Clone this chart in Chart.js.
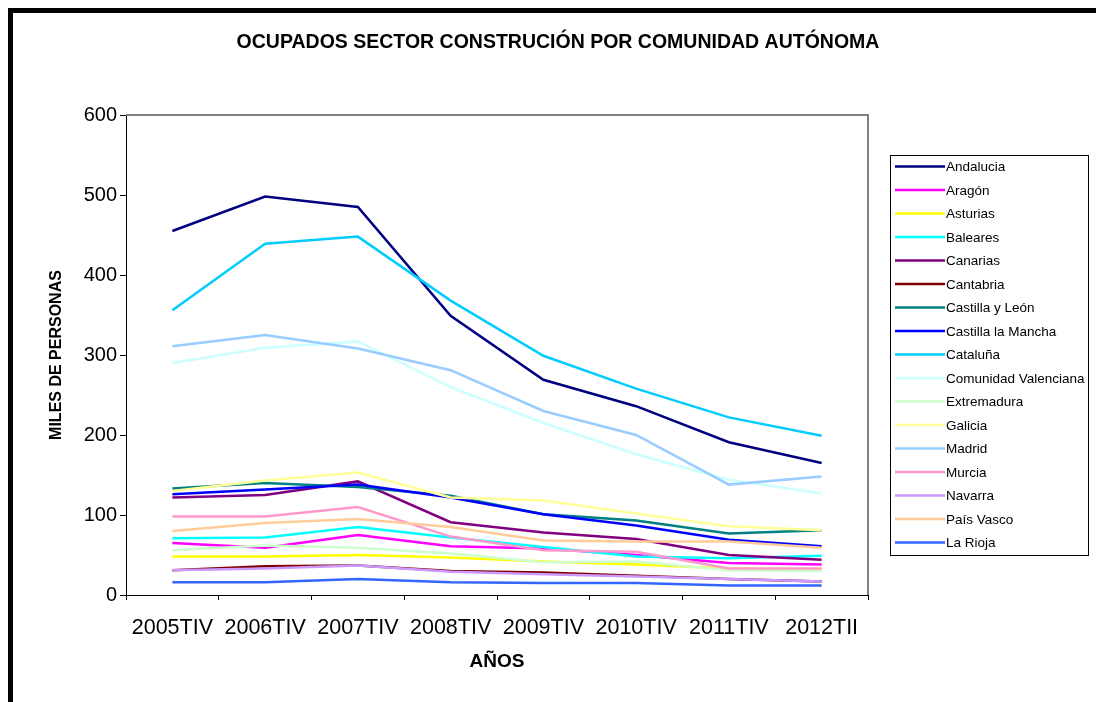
<!DOCTYPE html>
<html>
<head>
<meta charset="utf-8">
<script src="https://cdn.jsdelivr.net/npm/chart.js@4/dist/chart.umd.min.js"></script>
<style>
	html, body { margin: 0; padding: 0; background: #fff; overflow: hidden; }
	#frame { position: absolute; left: 8px; top: 8px; width: 2000px; height: 2000px; border-left: 5px solid #000; border-top: 5px solid #000; }
	#chart { position: absolute; left: 0; top: 0; }
</style>
</head>
<body>
<div id="frame"></div>
<canvas id="chart" width="1096" height="702"></canvas>
<script>
const FONT = "'Liberation Sans', Arial, sans-serif";

const categories = ['2005TIV', '2006TIV', '2007TIV', '2008TIV', '2009TIV', '2010TIV', '2011TIV', '2012TII'];
const yTicks = [0, 100, 200, 300, 400, 500, 600];

const andalucia = [455, 498, 485, 349, 269, 236, 191, 165];
const aragon = [65, 59, 75, 61, 58, 50, 40, 38];
const asturias = [48, 48, 50, 47, 42, 38, 33, 32];
const baleares = [71, 72, 85, 72, 60, 48, 46, 49];
const canarias = [122, 125, 142, 91, 78, 70, 50, 44];
const cantabria = [31, 36, 37, 30, 28, 24, 20, 17];
const castillaLeon = [133, 140, 135, 124, 101, 93, 77, 81];
const castillaMancha = [126, 132, 138, 122, 101, 87, 69, 61];
const cataluna = [356, 439, 448, 368, 299, 258, 222, 199];
const valenciana = [290, 309, 317, 260, 215, 176, 144, 127];
const extremadura = [56, 62, 59, 52, 41, 42, 31, 30];
const galicia = [130, 143, 153, 122, 118, 102, 86, 81];
const madrid = [311, 325, 308, 281, 230, 200, 138, 148];
const murcia = [98, 98, 110, 73, 56, 54, 33, 33];
const navarra = [31, 33, 37, 29, 26, 23, 20, 17];
const paisVasco = [80, 90, 95, 85, 68, 67, 67, 59];
const laRioja = [16, 16, 20, 16, 15, 15, 12, 12];

const seriesNames = ['Andalucia', 'Aragón', 'Asturias', 'Baleares', 'Canarias', 'Cantabria', 'Castilla y León', 'Castilla la Mancha', 'Cataluña', 'Comunidad Valenciana', 'Extremadura', 'Galicia', 'Madrid', 'Murcia', 'Navarra', 'País Vasco', 'La Rioja'];
const seriesValues = [andalucia, aragon, asturias, baleares, canarias, cantabria, castillaLeon, castillaMancha, cataluna, valenciana, extremadura, galicia, madrid, murcia, navarra, paisVasco, laRioja];
const seriesColors = ['#000080', '#FF00FF', '#FFFF00', '#00FFFF', '#800080', '#800000', '#008080', '#0000FF', '#00CCFF', '#CCFFFF', '#CCFFCC', '#FFFF99', '#99CCFF', '#FF99CC', '#CC99FF', '#FFCC99', '#3366FF'];

// title, grey plot frame and the legend box (excel style)
const decorations = {
	id: 'decorations',
	beforeDatasetsDraw(chart) {
		const {ctx, chartArea: a} = chart;
		ctx.save();
		ctx.strokeStyle = '#808080';
		ctx.lineWidth = 2;
		ctx.beginPath();
		ctx.moveTo(a.left, a.top);
		ctx.lineTo(a.right, a.top);
		ctx.lineTo(a.right, a.bottom);
		ctx.stroke();
		ctx.restore();
	},
	afterDraw(chart) {
		const ctx = chart.ctx;
		ctx.save();
		ctx.fillStyle = '#000';
		ctx.font = 'bold 19.5px ' + FONT;
		ctx.textAlign = 'center';
		ctx.textBaseline = 'middle';
		ctx.fillText('OCUPADOS SECTOR CONSTRUCIÓN POR COMUNIDAD AUTÓNOMA', 558, 43);

		ctx.strokeStyle = '#000';
		ctx.lineWidth = 1;
		ctx.strokeRect(890.5, 155.5, 198, 400);

		ctx.font = '13.5px ' + FONT;
		ctx.textAlign = 'left';
		chart.data.datasets.forEach((ds, i) => {
			const y = 166.5 + i * 23.5;
			ctx.strokeStyle = ds.borderColor;
			ctx.lineWidth = 2.5;
			ctx.beginPath();
			ctx.moveTo(895, y);
			ctx.lineTo(945, y);
			ctx.stroke();
			ctx.fillStyle = '#000';
			ctx.fillText(ds.label, 946, y + 1);
		});
		ctx.restore();
	}
};

const datasets = seriesNames.map((name, i) => ({
	label: name,
	data: seriesValues[i],
	borderColor: seriesColors[i],
	backgroundColor: seriesColors[i],
	borderWidth: 2.5,
	pointRadius: 0,
	tension: 0,
	order: seriesNames.length - i
}));

new Chart(document.getElementById('chart'), {
	type: 'line',
	data: {labels: categories, datasets: datasets},
	plugins: [decorations],
	options: {
		responsive: false,
		animation: false,
		devicePixelRatio: 1,
		layout: {padding: {left: 0, top: 115, right: 228, bottom: 0}},
		plugins: {legend: {display: false}, tooltip: {enabled: false}},
		scales: {
			x: {
				type: 'category',
				offset: true,
				grid: {offset: true, drawOnChartArea: false, drawTicks: true, tickLength: 5, color: '#000'},
				border: {display: true, color: '#000', width: 1},
				ticks: {color: '#000', font: {family: FONT, size: 21.5}, padding: 15, maxRotation: 0, autoSkip: false},
				title: {display: true, text: 'AÑOS', color: '#000', font: {family: FONT, size: 19, weight: 'bold'}, padding: {top: 0, bottom: 29}},
				afterFit: (s) => { s.height = 107; }
			},
			y: {
				min: 0,
				max: 600,
				afterBuildTicks: (s) => { s.ticks = yTicks.map(v => ({value: v})); },
				grid: {drawOnChartArea: false, drawTicks: true, tickLength: 6, color: '#000'},
				border: {display: true, color: '#000', width: 1},
				ticks: {color: '#000', font: {family: FONT, size: 20}, padding: 3},
				title: {display: true, text: 'MILES DE PERSONAS', color: '#000', font: {family: FONT, size: 16, weight: 'bold'}, padding: {top: 47, bottom: 0}},
				afterFit: (s) => { s.width = 126; }
			}
		}
	}
});
</script>
</body>
</html>
